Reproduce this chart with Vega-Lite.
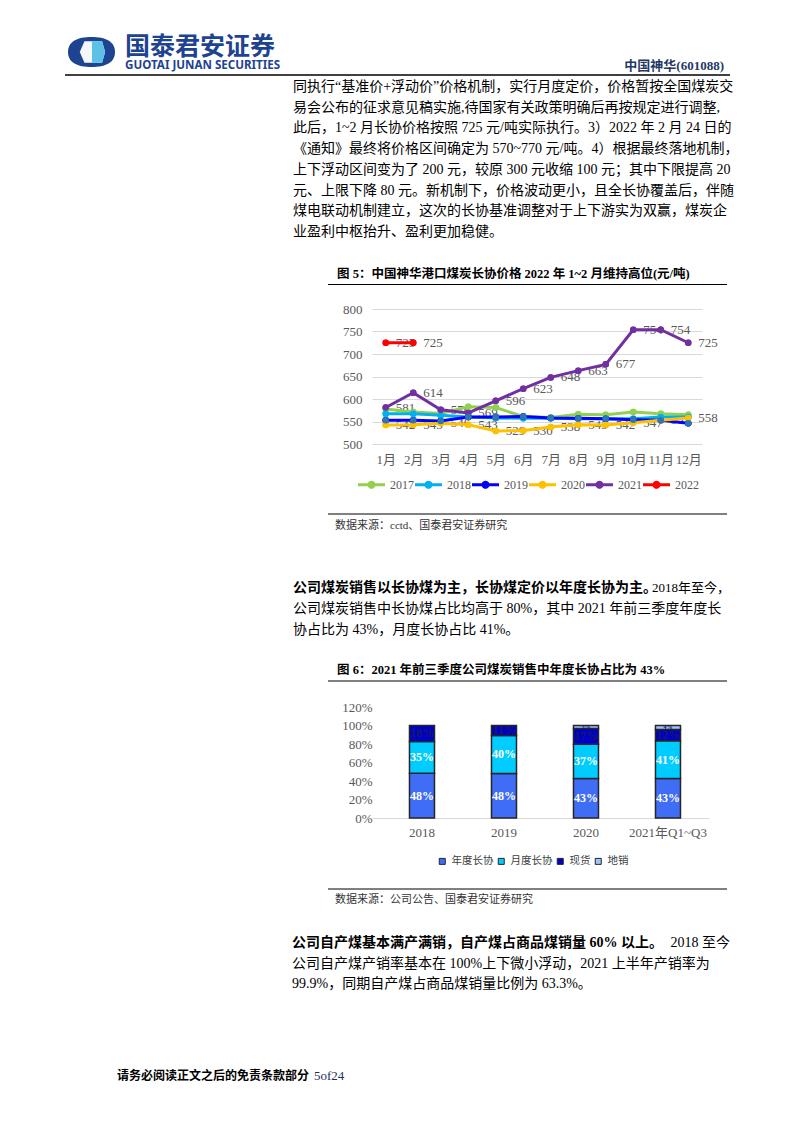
{
  "$schema": "https://vega.github.io/schema/vega-lite/v6.json",
  "padding": 0,
  "spacing": 0,
  "bounds": "flush",
  "align": "none",
  "columns": 3,
  "background": "white",
  "resolve": {"scale": {"color": "independent"}, "legend": {"color": "independent"}},
  "config": {"view": {"stroke": null}},
  "datasets": {
    "para1": [
      {"line": 1, "text": "同执行“基准价+浮动价”价格机制，实行月度定价，价格暂按全国煤炭交"},
      {"line": 2, "text": "易会公布的征求意见稿实施,待国家有关政策明确后再按规定进行调整,"},
      {"line": 3, "text": "此后，1~2 月长协价格按照 725 元/吨实际执行。3）2022 年 2 月 24 日的"},
      {"line": 4, "text": "《通知》最终将价格区间确定为 570~770 元/吨。4）根据最终落地机制，"},
      {"line": 5, "text": "上下浮动区间变为了 200 元，较原 300 元收缩 100 元；其中下限提高 20"},
      {"line": 6, "text": "元、上限下降 80 元。新机制下，价格波动更小，且全长协覆盖后，伴随"},
      {"line": 7, "text": "煤电联动机制建立，这次的长协基准调整对于上下游实为双赢，煤炭企"},
      {"line": 8, "text": "业盈利中枢抬升、盈利更加稳健。"}
    ],
    "para2": [
      {"line": 1, "part": "bold", "text": "公司煤炭销售以长协煤为主，长协煤定价以年度长协为主。"},
      {"line": 1, "part": "tail", "text": "2018年至今，"},
      {"line": 2, "part": "body", "text": "公司煤炭销售中长协煤占比均高于 80%，其中 2021 年前三季度年度长"},
      {"line": 3, "part": "body", "text": "协占比为 43%，月度长协占比 41%。"}
    ],
    "para3": [
      {"line": 1, "part": "bold", "text": "公司自产煤基本满产满销，自产煤占商品煤销量 60% 以上。"},
      {"line": 1, "part": "tail", "text": "2018 至今"},
      {"line": 2, "part": "body", "text": "公司自产煤产销率基本在 100%上下微小浮动，2021 上半年产销率为"},
      {"line": 3, "part": "body", "text": "99.9%，同期自产煤占商品煤销量比例为 63.3%。"}
    ],
    "prices": [
      {"year": "2017", "month": "1月", "price": 578}, {"year": "2017", "month": "2月", "price": 571}, {"year": "2017", "month": "3月", "price": 568}, {"year": "2017", "month": "4月", "price": 583}, {"year": "2017", "month": "5月", "price": 581}, {"year": "2017", "month": "6月", "price": 561}, {"year": "2017", "month": "7月", "price": 559}, {"year": "2017", "month": "8月", "price": 566}, {"year": "2017", "month": "9月", "price": 565}, {"year": "2017", "month": "10月", "price": 571}, {"year": "2017", "month": "11月", "price": 567}, {"year": "2017", "month": "12月", "price": 565},
      {"year": "2018", "month": "1月", "price": 567}, {"year": "2018", "month": "2月", "price": 567}, {"year": "2018", "month": "3月", "price": 564}, {"year": "2018", "month": "4月", "price": 560}, {"year": "2018", "month": "5月", "price": 558}, {"year": "2018", "month": "6月", "price": 557}, {"year": "2018", "month": "7月", "price": 557}, {"year": "2018", "month": "8月", "price": 556}, {"year": "2018", "month": "9月", "price": 556}, {"year": "2018", "month": "10月", "price": 556}, {"year": "2018", "month": "11月", "price": 560}, {"year": "2018", "month": "12月", "price": 560},
      {"year": "2019", "month": "1月", "price": 553}, {"year": "2019", "month": "2月", "price": 553}, {"year": "2019", "month": "3月", "price": 551}, {"year": "2019", "month": "4月", "price": 560}, {"year": "2019", "month": "5月", "price": 560}, {"year": "2019", "month": "6月", "price": 561}, {"year": "2019", "month": "7月", "price": 558}, {"year": "2019", "month": "8月", "price": 557}, {"year": "2019", "month": "9月", "price": 556}, {"year": "2019", "month": "10月", "price": 554}, {"year": "2019", "month": "11月", "price": 553}, {"year": "2019", "month": "12月", "price": 546},
      {"year": "2020", "month": "1月", "price": 542}, {"year": "2020", "month": "2月", "price": 543}, {"year": "2020", "month": "3月", "price": 546}, {"year": "2020", "month": "4月", "price": 543}, {"year": "2020", "month": "5月", "price": 529}, {"year": "2020", "month": "6月", "price": 530}, {"year": "2020", "month": "7月", "price": 538}, {"year": "2020", "month": "8月", "price": 543}, {"year": "2020", "month": "9月", "price": 542}, {"year": "2020", "month": "10月", "price": 547}, {"year": "2020", "month": "11月", "price": 553}, {"year": "2020", "month": "12月", "price": 558},
      {"year": "2021", "month": "1月", "price": 581}, {"year": "2021", "month": "2月", "price": 614}, {"year": "2021", "month": "3月", "price": 576}, {"year": "2021", "month": "4月", "price": 569}, {"year": "2021", "month": "5月", "price": 596}, {"year": "2021", "month": "6月", "price": 623}, {"year": "2021", "month": "7月", "price": 648}, {"year": "2021", "month": "8月", "price": 663}, {"year": "2021", "month": "9月", "price": 677}, {"year": "2021", "month": "10月", "price": 754}, {"year": "2021", "month": "11月", "price": 754}, {"year": "2021", "month": "12月", "price": 725},
      {"year": "2022", "month": "1月", "price": 725}, {"year": "2022", "month": "2月", "price": 725}
    ],
    "shares": [
      {"period": "2018", "type": "年度长协", "seq": 1, "value": 48.4, "label": "48%"},
      {"period": "2018", "type": "月度长协", "seq": 2, "value": 34.4, "label": "35%"},
      {"period": "2018", "type": "现货", "seq": 3, "value": 17.2, "label": "18%"},
      {"period": "2019", "type": "年度长协", "seq": 1, "value": 48.2, "label": "48%"},
      {"period": "2019", "type": "月度长协", "seq": 2, "value": 41.0, "label": "40%"},
      {"period": "2019", "type": "现货", "seq": 3, "value": 10.8, "label": "11%"},
      {"period": "2020", "type": "年度长协", "seq": 1, "value": 42.8, "label": "43%"},
      {"period": "2020", "type": "月度长协", "seq": 2, "value": 37.0, "label": "37%"},
      {"period": "2020", "type": "现货", "seq": 3, "value": 17.0, "label": "17%"},
      {"period": "2020", "type": "地销", "seq": 4, "value": 3.2, "label": "3%"},
      {"period": "2021年Q1~Q3", "type": "年度长协", "seq": 1, "value": 42.8, "label": "43%"},
      {"period": "2021年Q1~Q3", "type": "月度长协", "seq": 2, "value": 40.8, "label": "41%"},
      {"period": "2021年Q1~Q3", "type": "现货", "seq": 3, "value": 12.2, "label": "12%"},
      {"period": "2021年Q1~Q3", "type": "地销", "seq": 4, "value": 4.2, "label": "4%"}
    ]
  },
  "concat": [
    {
      "width": 372,
      "height": 309,
      "data": {"values": [{}]},
      "layer": [
        {"mark": {"type": "point", "shape": "M-1,0C-1,-0.45 -0.6,-0.64 0,-0.64C0.6,-0.64 1,-0.45 1,0C1,0.45 0.6,0.64 0,0.64C-0.6,0.64 -1,0.45 -1,0Z", "size": 2209, "filled": true, "color": "#1D4391", "strokeWidth": 0, "opacity": 1}, "encoding": {"x": {"value": 91.5}, "y": {"value": 52}}},
        {"mark": {"type": "point", "shape": "M-0.3,-0.46L0.45,-0.46L0.58,0L0.45,0.46L-0.3,0.46L-0.5,0Z", "size": 2209, "filled": true, "color": "#F4F6FA", "strokeWidth": 0, "opacity": 1}, "encoding": {"x": {"value": 91.5}, "y": {"value": 52}}},
        {"mark": {"type": "point", "shape": "M0.02,-0.46L0.45,-0.46L0.58,0L0.45,0.46L0.02,0.46Z", "size": 2209, "filled": true, "color": "#5BC2E7", "strokeWidth": 0, "opacity": 1}, "encoding": {"x": {"value": 91.5}, "y": {"value": 52}}},
        {"mark": {"type": "text", "text": "国泰君安证券", "font": "Noto Sans CJK SC", "fontWeight": "bold", "fontSize": 25, "color": "#1D4391", "align": "left", "baseline": "middle"}, "encoding": {"x": {"value": 125}, "y": {"value": 46.5}}},
        {"mark": {"type": "text", "text": "GUOTAI JUNAN SECURITIES", "font": "Noto Sans", "fontWeight": "bold", "fontSize": 11.6, "color": "#1D4391", "align": "left", "baseline": "middle"}, "encoding": {"x": {"value": 125}, "y": {"value": 66}}},
        {"mark": {"type": "text", "text": "中国神华(601088)", "font": "Liberation Serif, Noto Sans CJK SC", "fontWeight": "bold", "fontSize": 13, "color": "#1F3864", "align": "right", "baseline": "middle"}, "encoding": {"x": {"value": 724}, "y": {"value": 66}}},
        {"mark": {"type": "rule", "color": "#000000", "strokeWidth": 1.5}, "encoding": {"x": {"value": 65}, "x2": {"value": 730}, "y": {"value": 75}}},
        {
          "data": {"name": "para1"},
          "mark": {"type": "text", "align": "left", "baseline": "middle", "font": "Liberation Serif, Noto Sans CJK SC", "fontSize": 14, "color": "#000000"},
          "encoding": {
            "x": {"value": 293},
            "y": {"field": "line", "type": "ordinal", "axis": null, "scale": {"type": "point", "range": [87, 232], "padding": 0}},
            "text": {"field": "text"}
          }
        },
        {"mark": {"type": "text", "text": "图 5：中国神华港口煤炭长协价格 2022 年 1~2 月维持高位(元/吨)", "font": "Liberation Serif, Noto Sans CJK SC", "fontWeight": "bold", "fontSize": 12.5, "color": "#000000", "align": "left", "baseline": "middle"}, "encoding": {"x": {"value": 337}, "y": {"value": 274}}},
        {"mark": {"type": "rule", "color": "#000000", "strokeWidth": 1}, "encoding": {"x": {"value": 328}, "x2": {"value": 727}, "y": {"value": 284.5}}}
      ]
    },
    {"width": 0, "height": 309, "data": {"values": [{}]}, "mark": {"type": "point", "opacity": 0}},
    {"width": 0, "height": 309, "data": {"values": [{}]}, "mark": {"type": "point", "opacity": 0}},
    {"width": 372, "height": 135, "data": {"values": [{}]}, "mark": {"type": "point", "opacity": 0}},
    {
      "width": 330,
      "height": 135,
      "data": {"name": "prices"},
      "encoding": {
        "x": {"field": "month", "type": "ordinal", "sort": ["1月", "2月", "3月", "4月", "5月", "6月", "7月", "8月", "9月", "10月", "11月", "12月"], "scale": {"type": "point", "padding": 0.5},
          "axis": {"title": null, "domain": false, "ticks": false, "grid": false, "labelAngle": 0, "labelFont": "Liberation Serif, Noto Sans CJK SC", "labelFontSize": 13, "labelColor": "#595959", "labelPadding": 9}},
        "y": {"field": "price", "type": "quantitative", "scale": {"domain": [500, 800], "nice": false, "zero": false},
          "axis": {"title": null, "values": [500, 550, 600, 650, 700, 750, 800], "domain": false, "ticks": false, "grid": true, "gridColor": "#D9D9D9", "gridWidth": 1, "labelFont": "Liberation Serif", "labelFontSize": 13, "labelColor": "#595959", "labelPadding": 10}},
        "color": {"field": "year", "type": "nominal",
          "scale": {"domain": ["2017", "2018", "2019", "2020", "2021", "2022"], "range": ["#92D050", "#00B0F0", "#0000FF", "#FFC000", "#7030A0", "#FF0000"]},
          "legend": {"title": null, "orient": "none", "legendX": -14, "legendY": 162, "direction": "horizontal",
            "symbolType": "M-1,-0.11L-0.279,-0.11A0.3,0.3 0 0 1 0.279,-0.11L1,-0.11L1,0.11L0.279,0.11A0.3,0.3 0 0 1 -0.279,0.11L-1,0.11Z",
            "symbolSize": 729, "symbolStrokeWidth": 0, "symbolOpacity": 1,
            "labelFont": "Liberation Serif", "labelFontSize": 12, "labelColor": "#595959", "labelOffset": 5, "columnPadding": 1}}
      },
      "layer": [
        {
          "mark": {"type": "point", "filled": true, "size": 42, "opacity": 1, "strokeWidth": 0}
        },
        {
          "transform": [{"filter": {"field": "year", "oneOf": ["2020", "2021", "2022"]}}],
          "mark": {"type": "text", "align": "left", "baseline": "middle", "dx": 10, "font": "Liberation Serif", "fontSize": 13},
          "encoding": {"text": {"field": "price", "type": "quantitative"}, "color": {"value": "#595959"}}
        },
        {
          "mark": {"type": "line", "strokeWidth": 3}
        },
        {
          "mark": {"type": "point", "filled": true, "size": 42, "opacity": 1, "strokeWidth": 0}
        },
        {
          "transform": [{"filter": {"field": "year", "equal": "2019"}}],
          "mark": {"type": "point", "filled": true, "size": 42, "opacity": 1, "strokeWidth": 0},
          "encoding": {"color": {"value": "#2E75B6"}}
        }
      ]
    },
    {"width": 84, "height": 135, "data": {"values": [{}]}, "mark": {"type": "point", "opacity": 0}},
    {
      "width": 372,
      "height": 263,
      "data": {"values": [{}]},
      "layer": [
        {"mark": {"type": "rule", "color": "#000000", "strokeWidth": 1}, "encoding": {"x": {"value": 328}, "x2": {"value": 727}, "y": {"value": 70}}},
        {"mark": {"type": "text", "text": "数据来源：cctd、国泰君安证券研究", "font": "Liberation Serif, Noto Sans CJK SC", "fontSize": 11, "color": "#333333", "align": "left", "baseline": "middle"}, "encoding": {"x": {"value": 335}, "y": {"value": 82}}},
        {
          "data": {"name": "para2"},
          "encoding": {
            "y": {"field": "line", "type": "ordinal", "axis": null, "scale": {"type": "point", "range": [144, 186], "padding": 0}},
            "text": {"field": "text"}
          },
          "layer": [
            {"transform": [{"filter": "datum.part === 'bold'"}], "mark": {"type": "text", "align": "left", "baseline": "middle", "font": "Liberation Serif, Noto Sans CJK SC", "fontSize": 14, "fontWeight": "bold", "color": "#000000"}, "encoding": {"x": {"value": 293}}},
            {"transform": [{"filter": "datum.part === 'tail'"}], "mark": {"type": "text", "align": "right", "baseline": "middle", "font": "Liberation Serif, Noto Sans CJK SC", "fontSize": 13, "color": "#000000"}, "encoding": {"x": {"value": 730}}},
            {"transform": [{"filter": "datum.part === 'body'"}], "mark": {"type": "text", "align": "left", "baseline": "middle", "font": "Liberation Serif, Noto Sans CJK SC", "fontSize": 14, "color": "#000000"}, "encoding": {"x": {"value": 293}}}
          ]
        },
        {"mark": {"type": "text", "text": "图 6：2021 年前三季度公司煤炭销售中年度长协占比为 43%", "font": "Liberation Serif, Noto Sans CJK SC", "fontWeight": "bold", "fontSize": 12.5, "color": "#000000", "align": "left", "baseline": "middle"}, "encoding": {"x": {"value": 337}, "y": {"value": 226}}},
        {"mark": {"type": "rule", "color": "#000000", "strokeWidth": 1}, "encoding": {"x": {"value": 328}, "x2": {"value": 727}, "y": {"value": 237}}}
      ]
    },
    {"width": 0, "height": 263, "data": {"values": [{}]}, "mark": {"type": "point", "opacity": 0}},
    {"width": 0, "height": 263, "data": {"values": [{}]}, "mark": {"type": "point", "opacity": 0}},
    {"width": 372, "height": 111, "data": {"values": [{}]}, "mark": {"type": "point", "opacity": 0}},
    {
      "width": 337,
      "height": 111,
      "data": {"name": "shares"},
      "encoding": {
        "x": {"field": "period", "type": "nominal", "sort": ["2018", "2019", "2020", "2021年Q1~Q3"], "scale": {"paddingInner": 0.695, "paddingOuter": 0.4024, "align": 0.568},
          "axis": {"title": null, "labelAngle": 0, "domain": true, "domainColor": "#D9D9D9", "domainWidth": 1, "ticks": false, "grid": false, "labelFont": "Liberation Serif, Noto Sans CJK SC", "labelFontSize": 13, "labelColor": "#595959", "labelPadding": 8}},
        "y": {"field": "value", "type": "quantitative", "stack": "zero", "scale": {"domain": [0, 120], "nice": false},
          "axis": {"title": null, "values": [0, 20, 40, 60, 80, 100, 120], "labelExpr": "datum.value + '%'", "domain": false, "ticks": false, "grid": false, "labelFont": "Liberation Serif", "labelFontSize": 13, "labelColor": "#595959", "labelPadding": 0}},
        "order": {"field": "seq", "type": "quantitative"}
      },
      "layer": [
        {
          "mark": {"type": "bar", "stroke": "#262626", "strokeWidth": 1.5},
          "encoding": {"color": {"field": "type", "type": "nominal",
            "scale": {"domain": ["年度长协", "月度长协", "现货", "地销"], "range": ["#3F6DF5", "#00CCFF", "#0000CC", "#9DC6F7"]},
            "legend": {"title": null, "orient": "none", "legendX": 65, "legendY": 149, "direction": "horizontal",
              "symbolType": "square", "symbolSize": 36, "symbolStrokeColor": "#262626", "symbolStrokeWidth": 1, "symbolOpacity": 1,
              "labelFont": "Liberation Serif, Noto Sans CJK SC", "labelFontSize": 10.5, "labelColor": "#404040", "labelOffset": 4, "columnPadding": 2}}}
        },
        {
          "mark": {"type": "text", "font": "Liberation Serif", "fontWeight": "bold", "baseline": "middle", "align": "center"},
          "encoding": {
            "y": {"field": "value", "type": "quantitative", "stack": "zero", "bandPosition": 0.5},
            "text": {"field": "label"},
            "size": {"condition": {"test": "datum.type === '地销'", "value": 6}, "value": 12},
            "color": {"condition": {"test": "datum.type === '现货' || datum.type === '地销'", "value": "#1A1A5E"}, "value": "#FFFFFF"}
          }
        }
      ]
    },
    {"width": 84, "height": 111, "data": {"values": [{}]}, "mark": {"type": "point", "opacity": 0}},
    {
      "width": 372,
      "height": 304,
      "data": {"values": [{}]},
      "layer": [
        {"mark": {"type": "rule", "color": "#000000", "strokeWidth": 1}, "encoding": {"x": {"value": 328}, "x2": {"value": 727}, "y": {"value": 71}}},
        {"mark": {"type": "text", "text": "数据来源：公司公告、国泰君安证券研究", "font": "Liberation Serif, Noto Sans CJK SC", "fontSize": 11, "color": "#333333", "align": "left", "baseline": "middle"}, "encoding": {"x": {"value": 335}, "y": {"value": 82}}},
        {
          "data": {"name": "para3"},
          "encoding": {
            "y": {"field": "line", "type": "ordinal", "axis": null, "scale": {"type": "point", "range": [125, 166], "padding": 0}},
            "text": {"field": "text"}
          },
          "layer": [
            {"transform": [{"filter": "datum.part === 'bold'"}], "mark": {"type": "text", "align": "left", "baseline": "middle", "font": "Liberation Serif, Noto Sans CJK SC", "fontSize": 14, "fontWeight": "bold", "color": "#000000"}, "encoding": {"x": {"value": 292}}},
            {"transform": [{"filter": "datum.part === 'tail'"}], "mark": {"type": "text", "align": "right", "baseline": "middle", "font": "Liberation Serif, Noto Sans CJK SC", "fontSize": 14, "color": "#000000"}, "encoding": {"x": {"value": 730}}},
            {"transform": [{"filter": "datum.part === 'body'"}], "mark": {"type": "text", "align": "left", "baseline": "middle", "font": "Liberation Serif, Noto Sans CJK SC", "fontSize": 14, "color": "#000000"}, "encoding": {"x": {"value": 292}}}
          ]
        },
        {"mark": {"type": "text", "text": "请务必阅读正文之后的免责条款部分", "font": "Noto Sans CJK SC", "fontWeight": "bold", "fontSize": 12, "color": "#000000", "align": "left", "baseline": "middle"}, "encoding": {"x": {"value": 117}, "y": {"value": 258}}},
        {"mark": {"type": "text", "text": "5of24", "font": "Liberation Serif", "fontSize": 13, "color": "#1F2F5F", "align": "left", "baseline": "middle"}, "encoding": {"x": {"value": 314}, "y": {"value": 258}}}
      ]
    },
    {"width": 0, "height": 304, "data": {"values": [{}]}, "mark": {"type": "point", "opacity": 0}},
    {"width": 0, "height": 304, "data": {"values": [{}]}, "mark": {"type": "point", "opacity": 0}}
  ]
}
